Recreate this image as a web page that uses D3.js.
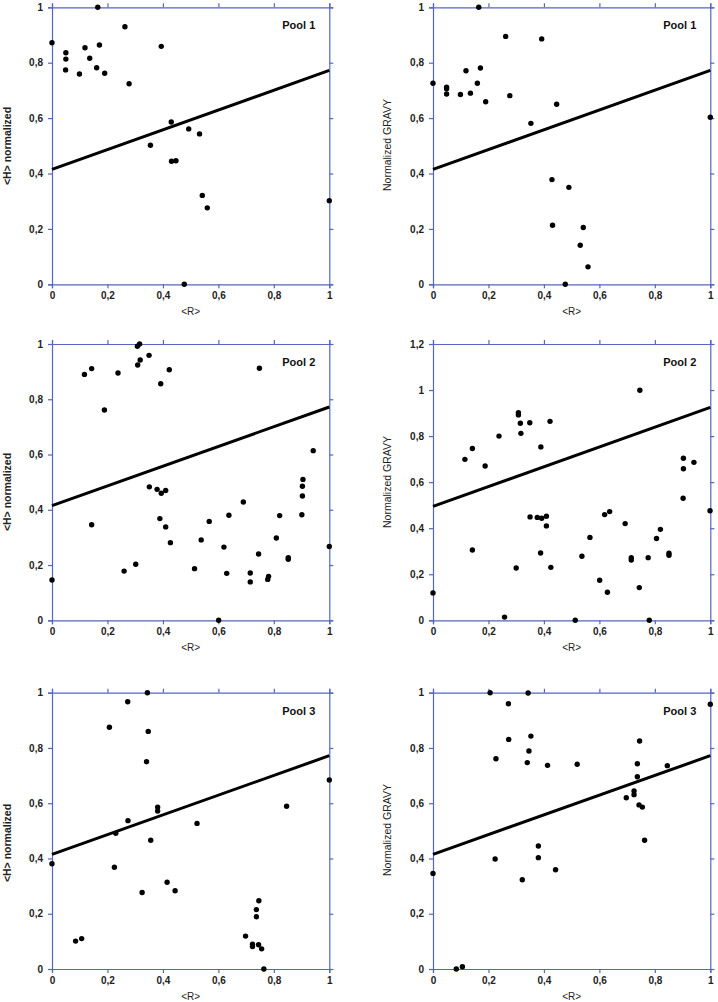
<!DOCTYPE html>
<html><head><meta charset="utf-8">
<script src="https://cdn.jsdelivr.net/npm/d3@7"></script>
<style>body{margin:0;background:#fff}svg{display:block}</style>
</head><body>
<svg id="c" width="718" height="1002"></svg>
<script>
// ---- data ----
const p1H_x = [0,0.165,0.263,0.050,0.050,0.049,0.099,0.119,0.136,0.171,0.161,0.190,0.278,0.394,0.355,0.430,0.431,0.447,0.493,0.532,0.542,0.560,0.477,1.0];
const p1H_y = [0.872,1.0,0.930,0.836,0.813,0.774,0.759,0.854,0.816,0.864,0.782,0.762,0.724,0.859,0.502,0.586,0.444,0.446,0.561,0.543,0.321,0.276,0.0,0.302];
const p1G_x = [0,0.165,0.262,0.392,0.049,0.049,0.049,0.099,0.119,0.135,0.171,0.160,0.190,0.277,0.353,0.446,0.429,0.431,0.490,0.542,0.531,0.559,0.477,1.0];
const p1G_y = [0.726,1.0,0.895,0.886,0.712,0.706,0.687,0.685,0.771,0.690,0.781,0.726,0.659,0.681,0.581,0.650,0.378,0.213,0.350,0.205,0.141,0.063,0.0,0.603];
const p2H_x = [0,0.117,0.143,0.189,0.238,0.143,0.260,0.302,0.308,0.316,0.309,0.318,0.350,0.423,0.392,0.351,0.379,0.394,0.410,0.389,0.410,0.427,0.514,0.538,0.567,0.601,0.620,0.630,0.638,0.690,0.715,0.715,0.745,0.748,0.778,0.781,0.809,0.821,0.852,0.852,0.901,0.903,0.903,0.905,0.942,1.0];
const p2H_y = [0.146,0.890,0.911,0.761,0.895,0.346,0.178,0.203,0.992,1.0,0.924,0.942,0.959,0.907,0.856,0.483,0.474,0.460,0.470,0.368,0.338,0.281,0.187,0.291,0.358,0.0,0.265,0.170,0.380,0.428,0.171,0.139,0.240,0.912,0.148,0.159,0.298,0.379,0.227,0.221,0.382,0.450,0.485,0.510,0.614,0.267];
const p2G_x = [0,0.115,0.142,0.142,0.188,0.238,0.258,0.300,0.308,0.308,0.315,0.317,0.349,0.422,0.389,0.350,0.376,0.392,0.409,0.409,0.388,0.425,0.513,0.537,0.566,0.601,0.619,0.629,0.637,0.693,0.715,0.715,0.744,0.746,0.776,0.780,0.806,0.820,0.851,0.851,0.902,0.903,0.903,0.941,0.999];
const p2G_y = [0.119,0.699,0.746,0.305,0.670,0.800,0.014,0.227,0.902,0.892,0.856,0.812,0.858,0.864,0.753,0.449,0.447,0.443,0.452,0.410,0.292,0.230,0.0,0.278,0.360,0.174,0.459,0.122,0.472,0.420,0.272,0.262,0.142,0.999,0.272,0.0,0.355,0.395,0.291,0.282,0.530,0.658,0.704,0.686,0.476];
const p3H_x = [0,0.085,0.107,0.207,0.225,0.230,0.273,0.274,0.325,0.344,0.347,0.341,0.356,0.381,0.381,0.415,0.444,0.523,0.698,0.723,0.723,0.745,0.756,0.737,0.737,0.746,0.764,0.846,1.0];
const p3H_y = [0.381,0.101,0.110,0.875,0.368,0.491,0.967,0.537,0.277,1.0,0.860,0.750,0.466,0.586,0.572,0.314,0.283,0.527,0.119,0.090,0.081,0.088,0.073,0.215,0.189,0.247,0.0,0.589,0.684];
const p3G_x = [0,0.084,0.106,0.206,0.227,0.224,0.272,0.273,0.322,0.343,0.353,0.346,0.340,0.380,0.380,0.413,0.442,0.520,0.697,0.725,0.725,0.737,0.737,0.745,0.743,0.755,0.763,0.845,1.0];
const p3G_y = [0.346,0.0,0.008,1.0,0.761,0.398,0.960,0.831,0.323,0.999,0.843,0.789,0.747,0.445,0.403,0.737,0.359,0.741,0.620,0.644,0.631,0.743,0.696,0.825,0.594,0.586,0.466,0.736,0.958];
// regression lines: value at <R>=0 and <R>=1
const fitH = [0.415, 0.772];
const fitG2 = [0.495, 0.925];
const xTicks = [0,0.2,0.4,0.6,0.8,1];
const yTicks1 = [0,0.2,0.4,0.6,0.8,1];
const yTicks12 = [0,0.2,0.4,0.6,0.8,1,1.2];
const poolNames = ["Pool 1","Pool 2","Pool 3"];
const yTitles = ["<H> normalized","Normalized GRAVY"];
const xTitle = "<R>";

// ---- layout ----
const panels = [
  {x:p1H_x,y:p1H_y,fit:fitH,yt:yTicks1,ymax:1,pool:0,col:0,top:7.3,bot:284.3,ty:146},
  {x:p1G_x,y:p1G_y,fit:fitH,yt:yTicks1,ymax:1,pool:0,col:1,top:7.3,bot:284.3,ty:145},
  {x:p2H_x,y:p2H_y,fit:fitH,yt:yTicks1,ymax:1,pool:1,col:0,top:344,bot:620.3,ty:492},
  {x:p2G_x,y:p2G_y,fit:fitG2,yt:yTicks12,ymax:1.2,pool:1,col:1,top:344,bot:620.3,ty:482},
  {x:p3H_x,y:p3H_y,fit:fitH,yt:yTicks1,ymax:1,pool:2,col:0,top:692.7,bot:969,ty:843},
  {x:p3G_x,y:p3G_y,fit:fitH,yt:yTicks1,ymax:1,pool:2,col:1,top:692.7,bot:969,ty:830}
];
const colX = [[52,329.3],[433,710.3]];
const titleX = [7,387];
const axisColor = "#5566c2";
const fmt = d => String(+d.toFixed(1)).replace(".", ",");

const svg = d3.select("#c");
panels.forEach(p => {
  const [x0,x1] = colX[p.col];
  const xs = d3.scaleLinear().domain([0,1]).range([x0,x1]);
  const ys = d3.scaleLinear().domain([0,p.ymax]).range([p.bot,p.top]);
  const g = svg.append("g");
  const styleAxis = (sel, labels) => {
    sel.select(".domain").attr("stroke",axisColor).attr("stroke-width",1.2);
    sel.selectAll(".tick line").attr("stroke",axisColor).attr("stroke-width",1.2);
    sel.selectAll(".tick text").attr("fill","#222").attr("font-family","Arial, 'Liberation Sans', sans-serif")
      .attr("font-weight","bold").attr("font-size","10px");
    if(!labels) sel.selectAll(".tick text").remove();
  };
  g.append("g").attr("transform",`translate(0,${p.bot})`)
    .call(d3.axisBottom(xs).tickValues(xTicks).tickFormat(fmt).tickSize(4).tickPadding(4))
    .call(s=>styleAxis(s,true));
  g.append("g").attr("transform",`translate(0,${p.top})`)
    .call(d3.axisTop(xs).tickValues(xTicks).tickSize(4))
    .call(s=>styleAxis(s,false));
  g.append("g").attr("transform",`translate(${x0},0)`)
    .call(d3.axisLeft(ys).tickValues(p.yt).tickFormat(fmt).tickSize(4).tickPadding(5))
    .call(s=>styleAxis(s,true));
  g.append("g").attr("transform",`translate(${x1},0)`)
    .call(d3.axisRight(ys).tickValues(p.yt).tickSize(4))
    .call(s=>styleAxis(s,false));
  // fit line
  g.append("line").attr("x1",xs(0)).attr("y1",ys(p.fit[0])).attr("x2",xs(1)).attr("y2",ys(p.fit[1]))
    .attr("stroke","#000").attr("stroke-width",3);
  // points
  g.selectAll("circle").data(p.x.map((v,i)=>[v,p.y[i]])).join("circle")
    .attr("cx",d=>xs(d[0])).attr("cy",d=>ys(d[1])).attr("r",2.7).attr("fill","#000");
  // pool label
  g.append("text").attr("x",x1-14).attr("y",p.top+22).attr("text-anchor","end")
    .attr("font-family","Arial, 'Liberation Sans', sans-serif").attr("font-weight","bold").attr("font-size","11px")
    .attr("fill","#111").text(poolNames[p.pool]);
  // x title
  g.append("text").attr("x",(x0+x1)/2).attr("y",p.bot+31).attr("text-anchor","middle")
    .attr("font-family","Arial, 'Liberation Sans', sans-serif").attr("font-size","10px").attr("fill","#222").text(xTitle);
  // y title
  g.append("text").attr("transform",`translate(${titleX[p.col]+3.5},${p.ty}) rotate(-90)`).attr("text-anchor","middle")
    .attr("font-family","Arial, 'Liberation Sans', sans-serif").attr("font-size","10.5px")
    .attr("font-weight",p.col===0?"bold":"normal").attr("fill","#222").text(yTitles[p.col]);
});
</script>
</body></html>
